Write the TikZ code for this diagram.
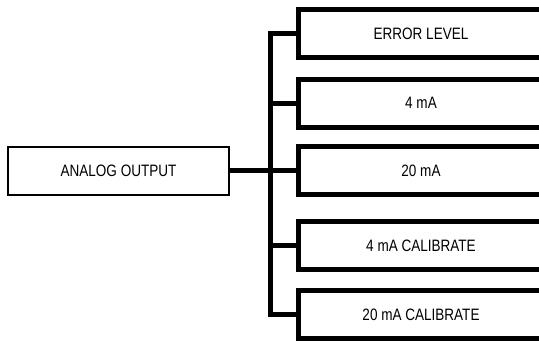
\documentclass[tikz,border=0pt]{standalone}
\usepackage{fontspec}
\setmainfont{Liberation Sans}[FakeStretch=0.82]
\begin{document}
\begin{tikzpicture}[x=1pt,y=-1pt,
  srcbox/.style={draw=black,line width=2pt,minimum width=221pt,minimum height=48pt,inner sep=0pt,font=\fontsize{16.5}{18}\selectfont},
  itembox/.style={minimum width=246pt,minimum height=48pt,inner sep=0pt,outer sep=0pt,font=\fontsize{16.5}{18}\selectfont},
  itemline/.style={draw=black,line width=5pt,line join=miter},
  conn/.style={draw=black,line width=5pt,line join=miter}]
\useasboundingbox (0,0) rectangle (539,341);
\node[srcbox] (ao) at (118.5,170.5) {ANALOG OUTPUT};
\node[itembox] (b1) at (421,33.5) {ERROR LEVEL};
\node[itembox] (b2) at (421,103) {4 mA};
\node[itembox] (b3) at (421,170.5) {20 mA};
\node[itembox] (b4) at (421,245.5) {4 mA CALIBRATE};
\node[itembox] (b5) at (421,314.5) {20 mA CALIBRATE};
\foreach \b in {b1,b2,b3,b4,b5}{
  \draw[itemline] ([xshift=40pt]\b.north east) -- (\b.north west) -- (\b.south west) -- ([xshift=40pt]\b.south east);
}
\coordinate (tr) at (270,170);
\draw[conn] (b1.west) -- (b1.west -| tr) -- (b5.west -| tr) -- (b5.west);
\draw[conn] (b2.west) -- (b2.west -| tr);
\draw[conn] (b4.west) -- (b4.west -| tr);
\draw[conn] (ao.east) -- (b3.west);
\end{tikzpicture}
\end{document}
